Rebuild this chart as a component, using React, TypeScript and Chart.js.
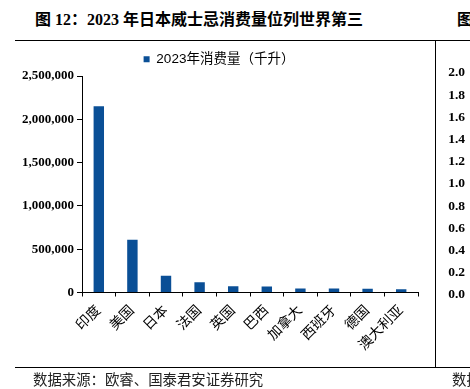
import React, { useEffect, useRef } from "react";
import { Chart, registerables } from "chart.js";

Chart.register(...registerables);

const categories = ["印度", "美国", "日本", "法国", "英国", "巴西", "加拿大", "西班牙", "德国", "澳大利亚"];
const consumption = [2150000, 610000, 193000, 119000, 73000, 70000, 46000, 46000, 44000, 38000];
const seriesName = "2023年消费量（千升）";
const yTicksMax = 2500000;
const yTickStep = 500000;
const sideAxisMax = 2.0;
const sideAxisStep = 0.2;

const titleText = "图 12：2023 年日本威士忌消费量位列世界第三";
const sourceText = "数据来源：欧睿、国泰君安证券研究";

const SERIF = "'Liberation Serif', 'Times New Roman', 'Noto Sans CJK SC', serif";
const SANS = "'Liberation Sans', Arial, 'Noto Sans CJK SC', sans-serif";
const BLUE = "#0a4f96";

export default function App() {
  const mainRef = useRef<HTMLCanvasElement>(null);
  const sideRef = useRef<HTMLCanvasElement>(null);

  useEffect(() => {
    const main = new Chart(mainRef.current!, {
      type: "bar",
      data: {
        labels: categories,
        datasets: [
          {
            label: seriesName,
            data: consumption,
            backgroundColor: BLUE,
            borderWidth: 0,
            categoryPercentage: 1,
            barPercentage: 0.31,
          },
        ],
      },
      options: {
        responsive: false,
        animation: false,
        layout: { padding: { top: 44.5, left: 20, right: 16, bottom: 36.5 } },
        plugins: {
          legend: {
            display: true,
            position: "top",
            labels: {
              boxWidth: 6,
              boxHeight: 6,
              padding: 8,
              color: "#000",
              font: { family: SANS, size: 13.5 },
            },
          },
          tooltip: { enabled: false },
        },
        scales: {
          x: {
            offset: true,
            afterFit: (s: any) => {
              s.height = 60;
            },
            grid: {
              display: true,
              offset: true,
              drawOnChartArea: false,
              drawTicks: true,
              tickLength: 4,
              color: "#000",
            },
            border: { display: true, color: "#000", width: 1 },
            ticks: {
              autoSkip: false,
              maxRotation: 45,
              minRotation: 45,
              padding: 6,
              color: "#000",
              font: { family: SERIF, size: 14 },
            },
          },
          y: {
            min: 0,
            max: yTicksMax,
            afterFit: (s: any) => {
              s.width = 62;
            },
            grid: {
              display: true,
              drawOnChartArea: false,
              drawTicks: true,
              tickLength: 5,
              color: "#000",
            },
            border: { display: true, color: "#000", width: 1 },
            ticks: {
              stepSize: yTickStep,
              padding: 3,
              color: "#000",
              font: { family: SERIF, size: 13, weight: "bold" },
              callback: (v: any) => Number(v).toLocaleString("en-US"),
            },
          },
        },
      },
    });

    const side = new Chart(sideRef.current!, {
      type: "line",
      data: { labels: [""], datasets: [{ data: [] }] },
      options: {
        responsive: false,
        animation: false,
        layout: { padding: { top: 73, bottom: 94, left: 0, right: 0 } },
        plugins: { legend: { display: false }, tooltip: { enabled: false } },
        scales: {
          x: { display: false },
          y: {
            min: 0,
            max: sideAxisMax,
            afterFit: (s: any) => {
              s.width = 32;
            },
            grid: { display: false, drawTicks: false },
            border: { display: false },
            ticks: {
              stepSize: sideAxisStep,
              padding: 3,
              color: "#000",
              font: { family: SERIF, size: 13.5, weight: "bold" },
              callback: (v: any) => Number(v).toFixed(1),
            },
          },
        },
      },
    });

    return () => {
      main.destroy();
      side.destroy();
    };
  }, []);

  const line = (style: React.CSSProperties): React.CSSProperties => ({
    position: "absolute",
    background: "#000",
    ...style,
  });

  return (
    <div
      style={{
        position: "fixed",
        left: 0,
        top: 0,
        width: 470,
        height: 389,
        overflow: "hidden",
        background: "#fff",
      }}
    >
      <div
        style={{
          position: "absolute",
          left: 35,
          top: 12,
          fontFamily: SERIF,
          fontWeight: "bold",
          fontSize: 16,
          lineHeight: "16px",
          whiteSpace: "nowrap",
          color: "#000",
        }}
      >
        {titleText}
      </div>
      <div
        style={{
          position: "absolute",
          left: 457,
          top: 12,
          fontFamily: SERIF,
          fontWeight: "bold",
          fontSize: 16,
          lineHeight: "16px",
          whiteSpace: "nowrap",
          color: "#000",
        }}
      >
        图 13：
      </div>
      <div style={line({ left: 15, top: 40, width: 455, height: 1 })} />
      <div style={line({ left: 435, top: 40, width: 1, height: 328 })} />
      <div style={line({ left: 15, top: 367, width: 455, height: 1 })} />
      <canvas
        ref={mainRef}
        width={434}
        height={389}
        style={{ position: "absolute", left: 0, top: 0, width: 434, height: 389 }}
      />
      <canvas
        ref={sideRef}
        width={34}
        height={389}
        style={{ position: "absolute", left: 436, top: 0, width: 34, height: 389 }}
      />
      <div
        style={{
          position: "absolute",
          left: 33,
          top: 373,
          fontFamily: SERIF,
          fontSize: 14.4,
          lineHeight: "15px",
          whiteSpace: "nowrap",
          color: "#222",
        }}
      >
        {sourceText}
      </div>
      <div
        style={{
          position: "absolute",
          left: 452,
          top: 373,
          fontFamily: SERIF,
          fontSize: 14.4,
          lineHeight: "15px",
          whiteSpace: "nowrap",
          color: "#222",
        }}
      >
        数据来源
      </div>
    </div>
  );
}
